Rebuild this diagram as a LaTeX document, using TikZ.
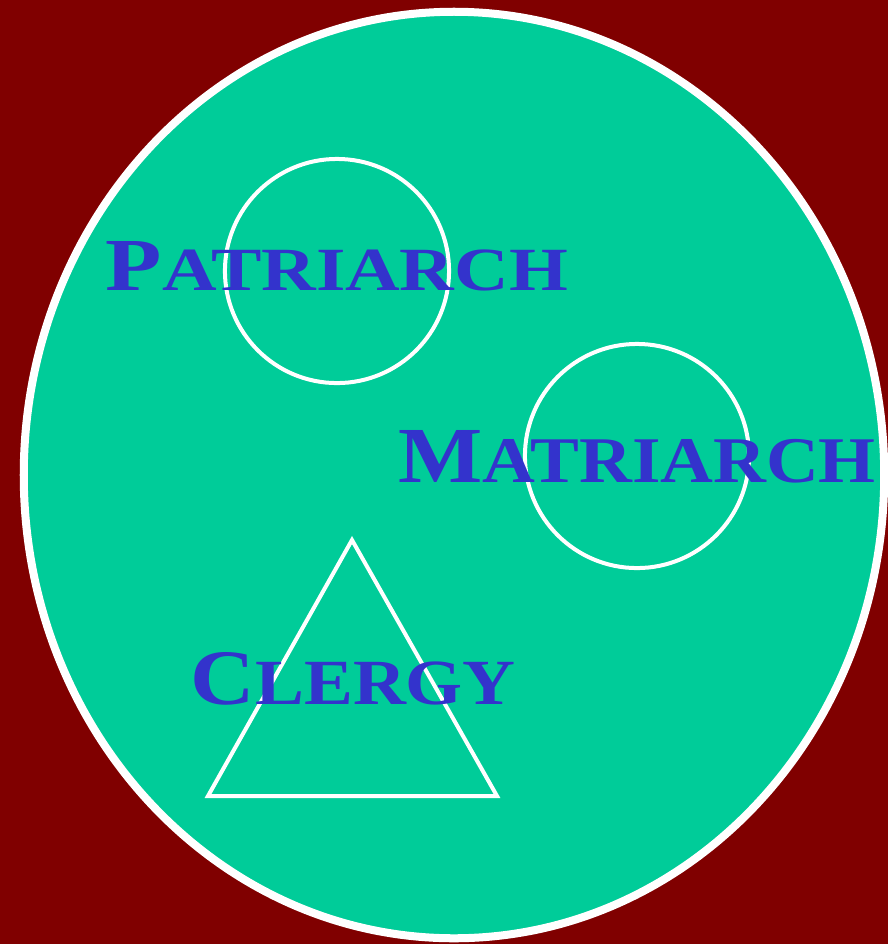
\documentclass[tikz,border=0pt]{standalone}
\usepackage{xcolor}
\usepackage{graphicx}
\usepackage{fontspec}
\usepackage{tikz}
\usetikzlibrary{positioning}
\newfontfamily\rankfont{Liberation Serif}
\definecolor{bgred}{RGB}{128,0,0}
\definecolor{poolteal}{RGB}{0,204,153}
\definecolor{rankblue}{RGB}{51,51,204}
\tikzset{
  rim/.style={draw=white, line width=0.04cm},
  rank/.style={inner sep=0pt, anchor=south west, text=rankblue}
}
% capital plus small capitals, squeezed to a given width and cap height
\newcommand{\rankname}[4]{\resizebox{#3}{#4}{\rankfont\bfseries\fontsize{20}{24}\selectfont #1\fontsize{16.4}{20}\selectfont #2}}

\begin{document}
\begin{tikzpicture}[x=0.01cm, y=-0.01cm]
  % background
  \fill[color=bgred] (0,0) rectangle (888,944);
  \useasboundingbox (0,0) rectangle (888,944);

  % big pool
  \draw[fill=poolteal, draw=white, line width=0.08cm] (454,475) ellipse (4.30cm and 4.63cm);

  % shapes
  \draw[rim] (337,271) circle (1.12cm);
  \draw[rim] (637,456) circle (1.12cm);
  \coordinate (apex) at (352,540);
  \coordinate (baseL) at (208,796);
  \coordinate (baseR) at (497,796);
  \draw[rim, line join=miter] (apex) -- (baseR) -- (baseL) -- cycle;

  % labels
  \node[rank] (patriarch) at (105,292) {\rankname{P}{ATRIARCH}{4.62cm}{0.49cm}};
  \node[rank] (matriarch) at (398,484) {\rankname{M}{ATRIARCH}{4.77cm}{0.52cm}};
  \node[rank] (clergy) at (190,706) {\rankname{C}{LERGY}{3.25cm}{0.52cm}};
\end{tikzpicture}
\end{document}
